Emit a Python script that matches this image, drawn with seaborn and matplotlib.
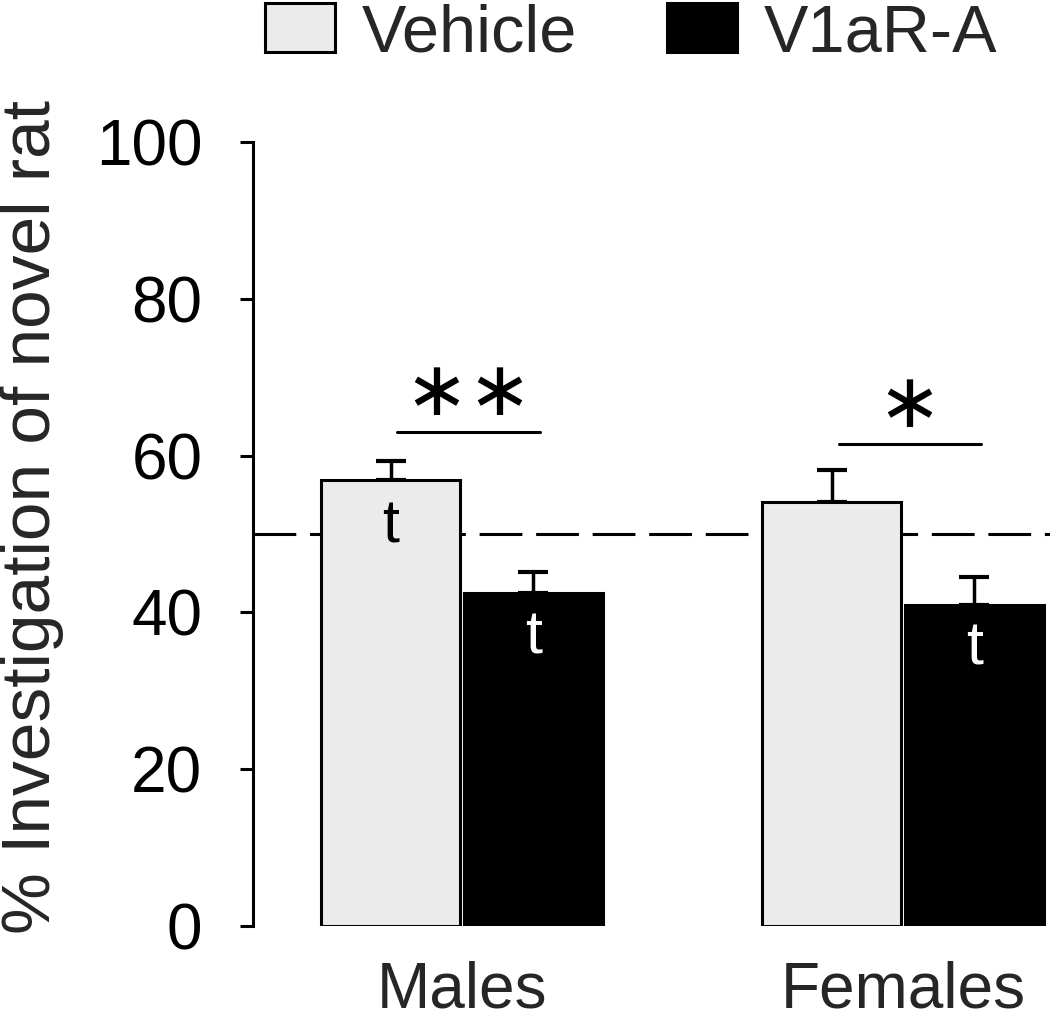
import numpy as np
import pandas as pd
import matplotlib
matplotlib.use("Agg")
import matplotlib.pyplot as plt
from matplotlib.patches import Patch
import seaborn as sns

sns.set_style("white")
plt.rcParams["font.family"] = ["Liberation Sans", "DejaVu Sans"]

groups = ["Males", "Females"]
treatments = ["Vehicle", "V1aR-A"]
means = {"Vehicle": [56.9, 54.1], "V1aR-A": [42.5, 40.9]}
sems = {"Vehicle": [2.4, 4.1], "V1aR-A": [2.7, 3.6]}
colors = {"Vehicle": "#ebebeb", "V1aR-A": "#000000"}
yticks = [0, 20, 40, 60, 80, 100]

rows = []
for t in treatments:
    for g, m, s in zip(groups, means[t], sems[t]):
        rows.append({"group": g, "treatment": t, "mean": m, "sem": s})
df = pd.DataFrame(rows)

fig = plt.figure(figsize=(10.5, 10.21), dpi=100)
ax = fig.add_axes([0.241, 0.093, 0.759, 0.768])

sns.barplot(data=df, x="group", y="mean", hue="treatment", order=groups,
            hue_order=treatments, palette=colors, errorbar=None,
            width=0.646, gap=0.025, edgecolor="black", linewidth=2.2,
            legend=False, ax=ax, zorder=3)

# bar centres straight from the patches, in hue order
centres = {}
for i, t in enumerate(treatments):
    cont = ax.containers[i]
    xs = [p.get_x() + p.get_width() / 2 for p in cont]
    centres[t] = xs
    ax.errorbar(xs, means[t], yerr=[np.zeros(len(xs)), sems[t]], fmt="none",
                ecolor="black", elinewidth=2.5, capsize=11, capthick=3, zorder=2)

# chance line
ax.axhline(50, color="black", lw=2.2, ls=(0, (14, 4.5)), zorder=1)

# significance bars
sig = ["\u2217\u2217", "\u2217"]
sig_y = [63.0, 61.5]
star_y = [67.9, 66.3]
for gi in range(2):
    x0 = centres["Vehicle"][gi] + 0.015
    x1 = centres["V1aR-A"][gi] + 0.015
    ax.plot([x0, x1], [sig_y[gi]] * 2, color="black", lw=2.2, zorder=3)
    ax.text((x0 + x1) / 2, star_y[gi], sig[gi], ha="center", va="center",
            fontsize=55, family=["DejaVu Sans"], color="black")

# "t" markers
ax.text(centres["Vehicle"][0], 50.9, "t", ha="center", va="center", fontsize=44, color="black", zorder=4)
ax.text(centres["V1aR-A"][0], 36.7, "t", ha="center", va="center", fontsize=44, color="white", zorder=4)
ax.text(centres["V1aR-A"][1], 35.3, "t", ha="center", va="center", fontsize=44, color="white", zorder=4)

ax.set_ylim(0, 100)
ax.set_xlim(-0.474, 1.333)
ax.set_yticks(yticks)
ax.tick_params(axis="y", labelsize=46, length=9.5, width=2.2, direction="out",
               pad=27, left=True, colors="black")
ax.tick_params(axis="x", labelsize=46, length=0, pad=25)
ax.set_xlabel("")
ax.set_ylabel("% Investigation of novel rat", fontsize=50)
ax.yaxis.set_label_coords(-0.237, 0.522)
for s in ["top", "right", "bottom"]:
    ax.spines[s].set_visible(False)
ax.spines["left"].set_linewidth(2.2)
ax.spines["left"].set_color("black")

handles = [Patch(facecolor=colors[t], edgecolor="black", linewidth=2.2, label=t)
           for t in treatments]
fig.legend(handles=handles, loc="upper left", bbox_to_anchor=(0.252, 0.997),
           ncol=2, frameon=False, fontsize=48, handlelength=1.05,
           handleheight=0.75, handletextpad=0.4, columnspacing=1.35,
           borderpad=0, borderaxespad=0)

fig.savefig("out.png", dpi=100)
